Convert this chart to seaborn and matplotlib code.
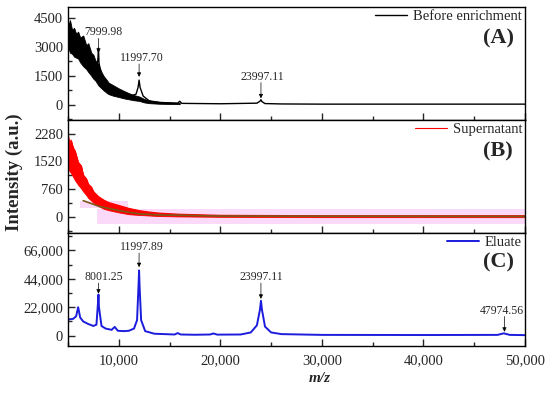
import seaborn as sns
import matplotlib.pyplot as plt
from matplotlib.ticker import AutoMinorLocator, MultipleLocator, StrMethodFormatter

# ---- data (m/z vs intensity) ----
# (A) before enrichment: noisy band + peak line
band_mz_a = [5000, 5100, 5200, 5400, 5600, 5800, 6000, 6200, 6500, 6800, 7000, 7300, 7500, 7700,
             8000, 8300, 8500, 8800, 9000, 9500, 10000, 10500, 11000, 11500, 12000, 12500, 13000,
             14000, 15000, 16000]
band_hi_a = [4500, 4100, 4400, 3900, 4000, 3700, 3800, 3500, 3600, 3100, 3200, 2700, 2600, 2300,
             2100, 1700, 1500, 1300, 1150, 1000, 850, 720, 600, 500, 430, 300, 220,
             150, 120, 100]
band_lo_a = [2900, 2850, 2700, 2650, 2500, 2450, 2400, 2200, 2000, 1850, 1700, 1500, 1350, 1250,
             1000, 850, 750, 620, 550, 460, 400, 330, 280, 230, 200, 120, 80,
             50, 40, 30]
mz_a = [5000, 6000, 7000, 7800, 7950, 8000, 8050, 8300, 9000, 10000, 11000, 11700, 11900, 12000,
        12100, 12400, 13000, 14000, 15800, 16000, 16200, 20000, 23600, 23900, 24000, 24100, 24400,
        26000, 30000, 40000, 50000]
int_a = [3600, 3000, 2300, 1800, 2400, 2950, 2200, 1400, 900, 620, 420, 550, 900, 1280,
         900, 450, 200, 120, 80, 180, 70, 50, 80, 180, 260, 160, 60,
         40, 30, 30, 30]

# (B) supernatant: noisy red band, olive baseline, pink shading
band_mz_b = [5000, 5150, 5300, 5500, 5700, 6000, 6300, 6500, 6800, 7000, 7300, 7500, 8000, 8500,
             9000, 10000, 11000, 12000, 13000, 14000, 16000, 20000, 30000, 50000]
band_hi_b = [2250, 2000, 2100, 1900, 1800, 1500, 1400, 1150, 1050, 900, 820, 700, 560, 470,
             400, 320, 240, 180, 140, 110, 80, 50, 40, 40]
band_lo_b = [1350, 1250, 1200, 1100, 1000, 880, 780, 700, 600, 520, 450, 390, 300, 230,
             190, 130, 80, 60, 45, 30, 20, 10, 0, 0]
base_mz_b = [6500, 8000, 10000, 12000, 14000, 20000, 50000]
base_int_b = [450, 300, 180, 90, 60, 30, 20]
pink_mz_1 = [6200, 10900]
pink_hi_1 = [430, 430]
pink_lo_1 = [240, 240]
pink_mz_2 = [7850, 50000]
pink_hi_2 = [215, 215]
pink_lo_2 = [-190, -190]

# (C) eluate
mz_c = [5000, 5500, 5800, 6000, 6200, 6500, 7000, 7500, 7800, 7950, 8000, 8050, 8300, 8700, 9300,
        9600, 9900, 10500, 11000, 11500, 11800, 11950, 12000, 12050, 12200, 12600, 13500,
        15500, 15800, 16100, 17500, 19000, 19300, 19700, 22000, 23000, 23600, 23900, 24000, 24100,
        24400, 25000, 26000, 30000, 40000, 47300, 47900, 48500, 50000]
int_c = [12500, 13000, 15000, 22000, 14000, 11000, 9000, 7500, 8500, 25000, 31800, 22000, 7500, 5500, 4500,
         6800, 3800, 3500, 3800, 5500, 12000, 40000, 50500, 38000, 12000, 3500, 1500,
         900, 2000, 900, 700, 900, 1700, 800, 900, 2500, 8000, 20000, 27000, 20000,
         7000, 2500, 1200, 600, 500, 600, 1800, 600, 400]

# peak labels: (text, peak m/z, text x, text bottom y, arrow tip y)
labels_a = [("7999.98", 8000, 8450, 3450, 2700),
            ("11997.70", 12000, 12250, 2120, 1450),
            ("23997.11", 24000, 24100, 1150, 330)]
labels_c = [("8001.25", 8001, 8480, 40700, 32500),
            ("11997.89", 11998, 12250, 64000, 53000),
            ("23997.11", 23997, 24000, 40700, 28500),
            ("47974.56", 47975, 47700, 14800, 3000)]

sns.set_theme(style="ticks")
plt.rcParams['font.family'] = ['Liberation Serif', 'DejaVu Serif']
plt.rcParams['axes.linewidth'] = 1.0

fig, axes = plt.subplots(3, 1, figsize=(5.5, 3.98), dpi=100, sharex=True)
fig.subplots_adjust(left=68/550, right=525/550, top=1-7/398, bottom=1-346/398, hspace=0)
ax_a, ax_b, ax_c = axes

# (A)
ax_a.fill_between(band_mz_a, band_lo_a, band_hi_a, color="black", lw=0.6)
sns.lineplot(x=mz_a, y=int_a, ax=ax_a, color="black", lw=1.0, label="Before enrichment")

# (B)
ax_b.fill_between(pink_mz_1, pink_lo_1, pink_hi_1, color="#fbd9f8", lw=0)
ax_b.fill_between(pink_mz_2, pink_lo_2, pink_hi_2, color="#fbd9f8", lw=0)
ax_b.fill_between(band_mz_b, band_lo_b, band_hi_b, color="red", lw=0.6)
sns.lineplot(x=band_mz_b, y=band_hi_b, ax=ax_b, color="red", lw=0.8, label="Supernatant")
sns.lineplot(x=base_mz_b, y=base_int_b, ax=ax_b, color="#7b5a18", lw=1.2, legend=False)

# (C)
sns.lineplot(x=mz_c, y=int_c, ax=ax_c, color="#1c1cdc", lw=1.4, label="Eluate")

def add_labels(ax, labels):
    for txt, peak, tx, ty, tip in labels:
        ax.text(tx, ty, txt, ha="center", va="bottom", fontsize=8.5)
        ax.annotate("", xy=(peak, tip), xytext=(peak, ty),
                    arrowprops=dict(arrowstyle="-|>", color="black", lw=0.5,
                                    mutation_scale=6, shrinkA=0, shrinkB=0))

add_labels(ax_a, labels_a)
add_labels(ax_c, labels_c)

ax_a.set_ylim(-795, 5083)
ax_a.yaxis.set_major_locator(MultipleLocator(1500))
ax_b.set_ylim(-432, 2650)
ax_b.yaxis.set_major_locator(MultipleLocator(760))
ax_c.set_ylim(-8000, 79450)
ax_c.yaxis.set_major_locator(MultipleLocator(22000))
ax_c.yaxis.set_major_formatter(StrMethodFormatter("{x:,.0f}"))
ax_c.set_xlim(5000, 50000)
ax_c.xaxis.set_major_locator(MultipleLocator(10000))
ax_c.xaxis.set_minor_locator(MultipleLocator(5000))
ax_c.xaxis.set_major_formatter(StrMethodFormatter("{x:,.0f}"))

for ax, tag, ty in zip(axes, ["(A)", "(B)", "(C)"], [0.72, 0.72, 0.74]):
    ax.yaxis.set_minor_locator(AutoMinorLocator(2))
    ax.tick_params(which="both", direction="in", labelsize=10.5, width=1)
    ax.tick_params(which="major", length=5)
    ax.tick_params(which="minor", length=3)
    ax.set_ylabel("")
    ax.text(0.941, ty, tag, transform=ax.transAxes, ha="center", va="center",
            fontsize=16, fontweight="bold")
    ax.legend(loc="upper right", frameon=False, fontsize=10.5, borderaxespad=0.1,
              borderpad=0.1, handlelength=2.2, handletextpad=0.4)
    for s in ax.spines.values():
        s.set_visible(True)
        s.set_color("black")

ax_c.tick_params(axis="x", which="major", pad=6)
ax_c.set_xlabel("m/z", fontsize=11, fontweight="bold", fontstyle="italic")
ax_c.xaxis.set_label_coords((320-68)/457, -0.23)
fig.text(14/550, 1-172/398, "Intensity (a.u.)", rotation=90, ha="center", va="center",
         fontsize=13.5, fontweight="bold")

fig.savefig("out.png", dpi=100)
